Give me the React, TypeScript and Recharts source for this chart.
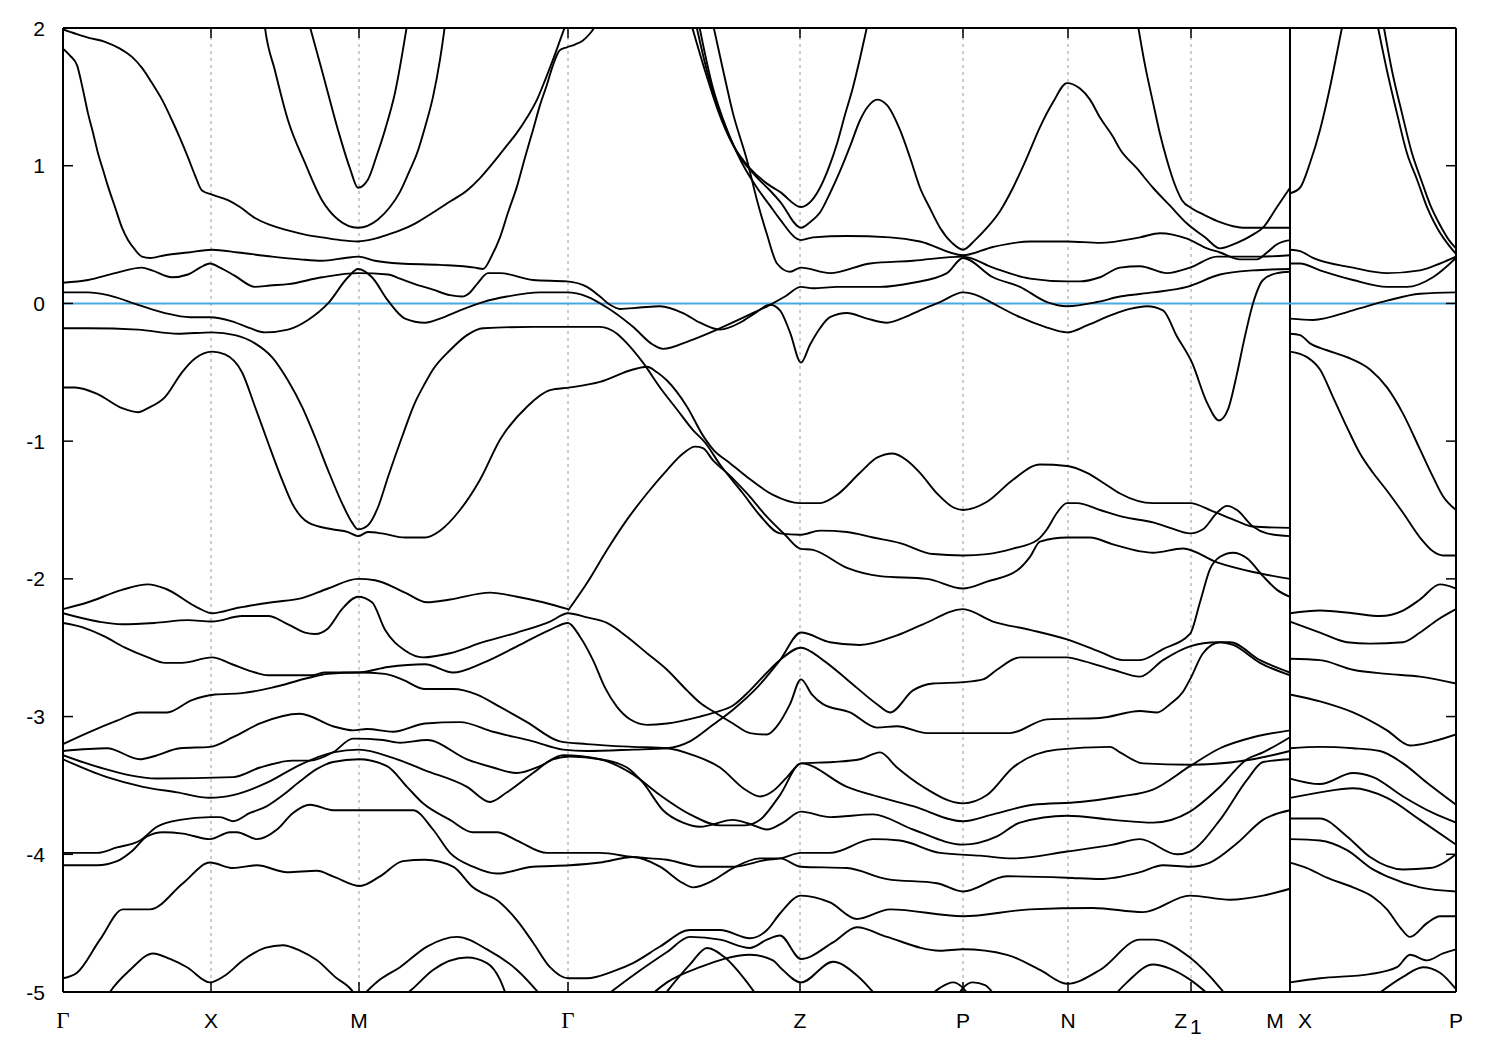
import { LineChart, Line, XAxis, YAxis, ReferenceLine } from 'recharts'

type Band = [number, number][]

// k-path positions of the high-symmetry points and their labels
const kTicks = [0, 148, 296, 505, 737, 900, 1005, 1128, 1227, 1393]
const kLabels = ['Γ', 'X', 'M', 'Γ', 'Z', 'P', 'N', 'Z1', 'M|X', 'P']
const breakK = 1227
const eTicks = [-5, -4, -3, -2, -1, 0, 1, 2]

// bands along Γ-X-M-Γ-Z-P-N-Z1-M  (k, E in eV)
const bandA: Band = [[0,1.99],[12,1.96],[25,1.93],[42,1.90],[57,1.85],[69,1.79],[79,1.71],[89,1.60],[99,1.48],[109,1.33],[117,1.20],[125,1.06],[132,0.93],[139,0.82],[149,0.79],[165,0.75],[177,0.70],[192,0.62],[207,0.57],[225,0.53],[242,0.50],[259,0.48],[277,0.46],[295,0.45],[312,0.47],[325,0.50],[337,0.53],[352,0.58],[370,0.66],[387,0.74],[404,0.82],[417,0.91],[430,1.02],[442,1.13],[454,1.24],[464,1.35],[474,1.48],[482,1.62],[490,1.77],[497,1.91],[503,2.03]]
const bandB: Band = [[0,1.85],[7,1.80],[14,1.73],[20,1.55],[25,1.38],[30,1.24],[35,1.09],[40,0.97],[45,0.85],[52,0.70],[59,0.55],[65,0.46],[72,0.39],[79,0.34],[87,0.33],[102,0.35],[125,0.37],[149,0.39],[175,0.37],[209,0.34],[237,0.32],[259,0.31],[282,0.33],[295,0.34],[312,0.31],[337,0.29],[377,0.28],[412,0.26],[420,0.25],[429,0.35],[437,0.48],[445,0.66],[454,0.85],[462,1.06],[470,1.26],[477,1.44],[484,1.59],[490,1.73],[497,1.84],[504,1.86],[512,1.88],[520,1.91],[527,1.96],[534,2.03]]
const bandC: Band = [[0,0.15],[25,0.17],[52,0.22],[79,0.26],[89,0.24],[109,0.19],[125,0.21],[137,0.26],[147,0.29],[157,0.26],[172,0.20],[192,0.12],[207,0.13],[225,0.14],[259,0.19],[295,0.22],[325,0.21],[337,0.18],[352,0.14],[370,0.10],[387,0.06],[399,0.05],[407,0.08],[415,0.15],[425,0.22],[437,0.22],[470,0.17],[504,0.16],[524,0.12],[537,0.05],[547,-0.01],[557,-0.04],[577,-0.03],[597,-0.02],[620,-0.07],[637,-0.14],[657,-0.19],[677,-0.14],[692,-0.07],[707,-0.01],[717,-0.05],[727,-0.21],[738,-0.43],[747,-0.30],[757,-0.18],[767,-0.10],[784,-0.07],[804,-0.11],[824,-0.14],[842,-0.10],[857,-0.05],[877,0.01],[900,0.08],[917,0.05],[930,0.00],[957,-0.10],[982,-0.17],[1004,-0.21],[1024,-0.16],[1050,-0.08],[1067,-0.04],[1084,-0.02],[1100,-0.05],[1114,-0.24],[1129,-0.43],[1144,-0.72],[1156,-0.85],[1165,-0.77],[1174,-0.51],[1181,-0.27],[1190,0.00],[1200,0.17],[1214,0.22],[1227,0.23]]
const bandD: Band = [[0,0.08],[25,0.08],[45,0.06],[75,-0.01],[102,-0.07],[127,-0.10],[147,-0.10],[169,-0.13],[187,-0.18],[202,-0.21],[225,-0.19],[245,-0.12],[265,0.00],[285,0.19],[295,0.25],[309,0.19],[325,0.02],[342,-0.11],[362,-0.14],[377,-0.11],[397,-0.05],[420,0.01],[444,0.05],[477,0.08],[504,0.08],[524,0.05],[544,-0.03],[570,-0.17],[590,-0.30],[600,-0.33],[627,-0.27],[654,-0.19],[687,-0.08],[707,-0.01],[722,0.05],[738,0.12],[750,0.11],[774,0.12],[817,0.12],[850,0.15],[884,0.22],[900,0.33],[930,0.19],[957,0.12],[984,0.01],[1004,-0.02],[1034,0.01],[1057,0.05],[1090,0.08],[1124,0.12],[1157,0.21],[1190,0.24],[1227,0.25]]
const bandE1: Band = [[200,2.12],[202,2.0],[212,1.69],[225,1.33],[242,1.02],[259,0.75],[275,0.61],[295,0.55],[315,0.61],[327,0.70],[337,0.81],[347,0.97],[354,1.09],[362,1.28],[370,1.50],[377,1.77],[382,2.02]]
const bandE2: Band = [[245,2.06],[259,1.69],[275,1.26],[287,0.98],[295,0.84],[305,0.90],[314,1.08],[322,1.26],[332,1.53],[344,2.02]]
const bandZa: Band = [[627,2.06],[642,1.69],[655,1.40],[670,1.15],[687,0.98],[704,0.87],[717,0.81],[738,0.70],[749,0.75],[757,0.84],[767,1.01],[774,1.16],[782,1.37],[790,1.57],[797,1.78],[805,2.04]]
const bandZb: Band = [[632,2.06],[645,1.66],[659,1.35],[674,1.10],[692,0.93],[707,0.82],[717,0.74],[738,0.55],[747,0.59],[757,0.66],[767,0.80],[777,0.96],[787,1.14],[797,1.33],[805,1.43],[814,1.48],[824,1.44],[837,1.26],[847,1.06],[857,0.84],[867,0.69],[877,0.55],[889,0.44],[900,0.39],[912,0.46],[924,0.55],[937,0.67],[950,0.84],[964,1.06],[977,1.28],[990,1.46],[1004,1.60],[1017,1.56],[1027,1.48],[1037,1.35],[1050,1.21],[1057,1.12],[1074,0.98],[1090,0.84],[1107,0.71],[1124,0.58],[1142,0.48],[1157,0.40],[1174,0.44],[1190,0.50],[1200,0.55],[1214,0.70],[1227,0.84]]
const bandZc: Band = [[635,2.06],[649,1.59],[664,1.26],[679,1.02],[694,0.84],[707,0.71],[717,0.61],[738,0.46],[750,0.48],[784,0.49],[827,0.48],[857,0.45],[900,0.35],[930,0.41],[967,0.45],[1004,0.45],[1037,0.44],[1077,0.48],[1097,0.51],[1124,0.47],[1144,0.40],[1157,0.37],[1177,0.32],[1194,0.32],[1204,0.37],[1214,0.43],[1227,0.46]]
const bandZd: Band = [[649,2.06],[659,1.73],[670,1.38],[684,1.04],[694,0.75],[704,0.50],[714,0.29],[727,0.23],[738,0.26],[767,0.22],[807,0.29],[850,0.31],[900,0.34],[930,0.26],[967,0.18],[1004,0.16],[1017,0.16],[1037,0.19],[1057,0.26],[1077,0.27],[1104,0.22],[1127,0.26],[1154,0.34],[1197,0.34],[1227,0.35]]
const bandNf: Band = [[1074,2.06],[1082,1.73],[1090,1.46],[1097,1.23],[1104,1.04],[1112,0.86],[1119,0.75],[1129,0.69],[1142,0.64],[1157,0.59],[1180,0.55],[1227,0.55]]
const bandF: Band = [[0,-0.18],[25,-0.18],[75,-0.19],[115,-0.22],[149,-0.21],[172,-0.23],[192,-0.29],[209,-0.39],[225,-0.56],[239,-0.75],[252,-0.97],[265,-1.21],[279,-1.45],[289,-1.59],[295,-1.64],[305,-1.61],[315,-1.48],[325,-1.26],[339,-0.97],[352,-0.72],[362,-0.58],[370,-0.48],[387,-0.34],[404,-0.23],[420,-0.18],[470,-0.17],[537,-0.17],[554,-0.22],[564,-0.29],[580,-0.43],[597,-0.61],[614,-0.77],[630,-0.92],[642,-1.01],[657,-1.17],[680,-1.38],[697,-1.54],[717,-1.67],[737,-1.68],[757,-1.65],[784,-1.66],[810,-1.70],[837,-1.74],[870,-1.82],[900,-1.83],[924,-1.82],[950,-1.78],[974,-1.72],[984,-1.64],[994,-1.52],[1004,-1.45],[1014,-1.45],[1037,-1.50],[1060,-1.55],[1090,-1.59],[1107,-1.63],[1127,-1.67],[1140,-1.64],[1154,-1.52],[1164,-1.47],[1174,-1.50],[1190,-1.62],[1204,-1.67],[1227,-1.69]]
const bandG: Band = [[0,-0.61],[12,-0.61],[35,-0.66],[59,-0.76],[75,-0.79],[85,-0.76],[102,-0.68],[119,-0.50],[132,-0.40],[149,-0.35],[162,-0.37],[179,-0.50],[192,-0.75],[205,-1.01],[219,-1.28],[229,-1.45],[245,-1.59],[269,-1.64],[285,-1.66],[295,-1.69],[305,-1.66],[319,-1.67],[342,-1.70],[362,-1.70],[377,-1.65],[397,-1.50],[417,-1.28],[437,-0.99],[464,-0.75],[487,-0.63],[507,-0.61],[537,-0.57],[570,-0.48],[584,-0.46],[594,-0.50],[604,-0.56],[624,-0.75],[640,-0.96],[650,-1.06],[667,-1.16],[684,-1.26],[710,-1.39],[737,-1.45],[757,-1.45],[774,-1.39],[797,-1.23],[814,-1.12],[830,-1.09],[844,-1.14],[857,-1.23],[874,-1.38],[890,-1.48],[900,-1.50],[924,-1.44],[950,-1.28],[977,-1.17],[1004,-1.18],[1024,-1.23],[1044,-1.32],[1057,-1.38],[1090,-1.45],[1127,-1.45],[1150,-1.51],[1174,-1.58],[1190,-1.62],[1227,-1.63]]
const bandH: Band = [[505,-2.23],[524,-2.03],[544,-1.79],[564,-1.57],[584,-1.38],[604,-1.21],[620,-1.09],[632,-1.04],[640,-1.05],[650,-1.14],[664,-1.23],[684,-1.38],[704,-1.55],[722,-1.68],[737,-1.78],[750,-1.79],[784,-1.92],[817,-1.98],[864,-2.00],[900,-2.07],[924,-2.02],[954,-1.94],[967,-1.84],[977,-1.73],[1004,-1.70],[1027,-1.70],[1050,-1.75],[1077,-1.80],[1090,-1.81],[1120,-1.78],[1154,-1.88],[1190,-1.95],[1227,-2.00]]
const bandJ: Band = [[0,-2.22],[25,-2.17],[59,-2.08],[85,-2.04],[102,-2.07],[135,-2.21],[149,-2.25],[175,-2.21],[209,-2.17],[239,-2.14],[265,-2.07],[295,-2.00],[312,-2.01],[342,-2.10],[364,-2.17],[387,-2.15],[427,-2.10],[454,-2.13],[480,-2.17],[505,-2.22]]
const bandK: Band = [[0,-2.25],[35,-2.31],[59,-2.33],[92,-2.32],[125,-2.30],[149,-2.31],[179,-2.27],[205,-2.27],[225,-2.33],[242,-2.39],[252,-2.40],[265,-2.36],[279,-2.22],[295,-2.13],[309,-2.17],[322,-2.37],[342,-2.52],[360,-2.57],[387,-2.54],[420,-2.46],[454,-2.39],[487,-2.31],[505,-2.25],[524,-2.28],[544,-2.32],[564,-2.42],[584,-2.54],[604,-2.66],[624,-2.81],[637,-2.90],[652,-2.97],[670,-3.05],[687,-3.12],[704,-3.13],[714,-3.07],[727,-2.91],[738,-2.73],[749,-2.84],[760,-2.91],[787,-2.97],[814,-3.08],[834,-3.07],[864,-3.12],[947,-3.12],[984,-3.02],[1037,-3.01],[1077,-2.96],[1094,-2.97],[1107,-2.91],[1120,-2.82],[1127,-2.73],[1140,-2.54],[1157,-2.46],[1170,-2.48],[1197,-2.61],[1227,-2.70]]
const bandL: Band = [[0,-2.32],[19,-2.35],[42,-2.42],[62,-2.50],[85,-2.57],[102,-2.61],[119,-2.61],[149,-2.57],[169,-2.62],[192,-2.68],[205,-2.70],[249,-2.70],[262,-2.68],[279,-2.68],[295,-2.68],[325,-2.64],[362,-2.62],[390,-2.68],[420,-2.61],[454,-2.49],[487,-2.37],[505,-2.32],[517,-2.42],[530,-2.59],[542,-2.79],[554,-2.93],[567,-3.02],[584,-3.06],[604,-3.05],[637,-3.00],[652,-2.97],[670,-2.92],[687,-2.81],[704,-2.68],[717,-2.59],[738,-2.50],[760,-2.59],[784,-2.73],[814,-2.91],[827,-2.97],[850,-2.81],[870,-2.76],[900,-2.75],[920,-2.73],[934,-2.66],[957,-2.57],[1004,-2.57],[1017,-2.59],[1050,-2.66],[1077,-2.71],[1100,-2.59],[1127,-2.49],[1154,-2.46],[1167,-2.46],[1197,-2.59],[1227,-2.68]]
const bandS: Band = [[0,-3.20],[24,-3.12],[54,-3.03],[77,-2.97],[104,-2.97],[129,-2.88],[152,-2.84],[179,-2.83],[209,-2.79],[245,-2.72],[265,-2.69],[295,-2.68],[322,-2.69],[339,-2.73],[362,-2.80],[390,-2.80],[414,-2.84],[437,-2.93],[464,-3.04],[497,-3.18],[524,-3.20],[570,-3.22],[604,-3.23],[630,-3.28],[657,-3.37],[682,-3.53],[697,-3.58],[710,-3.54],[724,-3.44],[738,-3.34],[770,-3.33],[797,-3.31],[817,-3.26],[834,-3.37],[860,-3.51],[900,-3.63],[924,-3.57],[950,-3.37],[994,-3.24],[1047,-3.22],[1057,-3.26],[1080,-3.34],[1127,-3.35],[1190,-3.31],[1227,-3.25]]
const bandN: Band = [[0,-3.25],[44,-3.23],[77,-3.31],[90,-3.29],[117,-3.23],[147,-3.22],[170,-3.15],[197,-3.05],[237,-2.98],[270,-3.07],[290,-3.10],[304,-3.09],[330,-3.11],[362,-3.05],[397,-3.04],[430,-3.11],[470,-3.18],[500,-3.24],[524,-3.25],[570,-3.24],[604,-3.23],[627,-3.18],[650,-3.06],[670,-2.95],[694,-2.79],[717,-2.59],[738,-2.39],[767,-2.46],[797,-2.48],[834,-2.41],[860,-2.33],[900,-2.22],[930,-2.31],[967,-2.37],[1004,-2.44],[1037,-2.53],[1060,-2.59],[1077,-2.59],[1100,-2.51],[1127,-2.40],[1137,-2.17],[1147,-1.93],[1157,-1.84],[1170,-1.81],[1184,-1.85],[1200,-1.98],[1214,-2.08],[1227,-2.13]]
const bandO: Band = [[0,-3.28],[37,-3.37],[94,-3.45],[170,-3.44],[197,-3.37],[230,-3.32],[247,-3.32],[270,-3.26],[290,-3.16],[320,-3.17],[337,-3.19],[364,-3.17],[404,-3.31],[430,-3.37],[454,-3.41],[477,-3.36],[500,-3.28],[537,-3.31],[570,-3.42],[597,-3.57],[627,-3.71],[657,-3.79],[682,-3.79],[697,-3.75],[717,-3.57],[738,-3.34],[784,-3.51],[814,-3.58],[850,-3.65],[900,-3.76],[930,-3.71],[970,-3.64],[1017,-3.62],[1057,-3.58],[1090,-3.53],[1127,-3.36],[1157,-3.23],[1190,-3.15],[1227,-3.10]]
const bandP: Band = [[0,-3.31],[44,-3.44],[80,-3.51],[114,-3.55],[147,-3.59],[170,-3.57],[204,-3.48],[237,-3.35],[270,-3.26],[296,-3.24],[330,-3.30],[362,-3.39],[404,-3.51],[427,-3.62],[444,-3.55],[470,-3.41],[490,-3.31],[507,-3.29],[537,-3.31],[564,-3.37],[580,-3.48],[600,-3.68],[620,-3.77],[637,-3.80],[670,-3.75],[687,-3.78],[704,-3.82],[720,-3.77],[738,-3.69],[767,-3.73],[810,-3.71],[850,-3.82],[900,-3.93],[934,-3.87],[957,-3.77],[1004,-3.72],[1050,-3.75],[1090,-3.77],[1127,-3.69],[1157,-3.51],[1184,-3.31],[1200,-3.26],[1227,-3.15]]
const bandQ: Band = [[0,-3.99],[34,-3.99],[54,-3.95],[77,-3.90],[94,-3.80],[117,-3.75],[147,-3.73],[157,-3.73],[170,-3.76],[187,-3.70],[204,-3.65],[220,-3.57],[237,-3.47],[254,-3.38],[270,-3.33],[296,-3.31],[324,-3.36],[344,-3.51],[360,-3.63],[387,-3.75],[410,-3.84],[434,-3.84],[454,-3.90],[484,-3.99],[507,-3.99],[537,-3.99],[570,-4.02],[604,-4.04],[637,-4.09],[670,-4.09],[704,-4.04],[717,-4.03],[738,-3.99],[767,-3.99],[810,-3.89],[837,-3.90],[877,-3.99],[917,-4.01],[950,-4.03],[1004,-3.98],[1050,-3.93],[1077,-3.89],[1114,-4.00],[1127,-3.98],[1157,-3.75],[1184,-3.46],[1200,-3.33],[1227,-3.31]]
const bandR: Band = [[0,-4.08],[34,-4.08],[54,-4.05],[70,-3.97],[84,-3.87],[100,-3.84],[120,-3.85],[147,-3.89],[167,-3.84],[174,-3.84],[194,-3.89],[214,-3.82],[230,-3.70],[247,-3.64],[270,-3.68],[296,-3.68],[337,-3.68],[350,-3.68],[370,-3.82],[387,-3.99],[410,-4.09],[434,-4.14],[470,-4.09],[507,-4.08],[537,-4.06],[570,-4.02],[597,-4.09],[620,-4.21],[630,-4.24],[650,-4.19],[670,-4.10],[697,-4.03],[717,-4.03],[738,-4.09],[784,-4.10],[824,-4.18],[874,-4.21],[900,-4.27],[944,-4.16],[1004,-4.17],[1037,-4.18],[1077,-4.13],[1100,-4.08],[1127,-4.09],[1147,-4.06],[1174,-3.92],[1200,-3.75],[1227,-3.68]]
const bandT1: Band = [[0,-4.90],[14,-4.86],[37,-4.62],[60,-4.40],[87,-4.40],[120,-4.21],[147,-4.06],[170,-4.10],[194,-4.08],[224,-4.13],[254,-4.12],[270,-4.16],[297,-4.23],[317,-4.16],[340,-4.05],[362,-4.04],[390,-4.09],[410,-4.24],[437,-4.35],[454,-4.48],[470,-4.64],[487,-4.82],[505,-4.90],[524,-4.90],[550,-4.85],[570,-4.79],[597,-4.67],[627,-4.55],[657,-4.55],[687,-4.61],[704,-4.55],[717,-4.43],[738,-4.30],[767,-4.35],[794,-4.47],[827,-4.40],[900,-4.45],[967,-4.40],[1030,-4.39],[1080,-4.42],[1127,-4.30],[1167,-4.33],[1200,-4.30],[1227,-4.25]]
const bandT2: Band = [[537,-5.06],[570,-4.88],[604,-4.71],[627,-4.60],[657,-4.62],[687,-4.68],[704,-4.62],[717,-4.59],[738,-4.76],[770,-4.64],[794,-4.53],[824,-4.60],[877,-4.70],[900,-4.69],[944,-4.73],[977,-4.84],[1004,-4.94],[1037,-4.84],[1077,-4.62],[1090,-4.62],[1127,-4.75],[1157,-4.97],[1167,-5.06]]
const bandT3: Band = [[582,-5.06],[604,-4.93],[637,-4.82],[687,-4.73],[710,-4.77],[717,-4.82],[738,-4.93],[770,-4.78],[794,-4.88],[817,-5.06]]
const domeZ: Band = [[597,-5.06],[627,-4.80],[644,-4.68],[662,-4.75],[682,-4.91],[697,-5.06]]
const bandU1: Band = [[42,-5.06],[47,-5.0],[67,-4.84],[90,-4.72],[107,-4.76],[124,-4.82],[147,-4.93],[162,-4.88],[180,-4.77],[202,-4.68],[220,-4.66],[237,-4.70],[254,-4.77],[272,-4.89],[290,-5.0],[295,-5.06]]
const bandU2: Band = [[295,-5.06],[317,-4.91],[337,-4.82],[364,-4.67],[394,-4.60],[424,-4.69],[454,-4.84],[482,-5.06]]
const bandU3: Band = [[335,-5.06],[349,-4.98],[370,-4.84],[404,-4.75],[424,-4.79],[437,-4.91],[445,-5.06]]
const domeN: Band = [[1047,-5.06],[1064,-4.93],[1090,-4.80],[1107,-4.83],[1127,-4.91],[1152,-5.06]]
const domeP1: Band = [[862,-5.06],[877,-4.97],[890,-4.93],[900,-4.97],[909,-5.06]]
const domeP2: Band = [[892,-5.06],[900,-4.97],[910,-4.93],[922,-4.95],[935,-5.06]]

// bands along X-P
const w1: Band = [[1227,0.80],[1237,0.84],[1247,1.02],[1257,1.26],[1267,1.57],[1274,1.82],[1280,2.04]]
const w2: Band = [[1314,2.04],[1324,1.69],[1334,1.38],[1344,1.09],[1354,0.90],[1364,0.70],[1374,0.55],[1384,0.44],[1393,0.36]]
const w3: Band = [[1320,2.04],[1329,1.69],[1339,1.38],[1349,1.09],[1358,0.90],[1367,0.72],[1377,0.57],[1386,0.46],[1393,0.40]]
const w4: Band = [[1227,0.39],[1237,0.38],[1250,0.33],[1290,0.26],[1324,0.22],[1357,0.24],[1377,0.29],[1393,0.34]]
const w5: Band = [[1227,0.29],[1237,0.29],[1257,0.24],[1290,0.17],[1324,0.12],[1344,0.12],[1370,0.19],[1393,0.33]]
const w6: Band = [[1227,-0.11],[1250,-0.12],[1290,-0.05],[1324,0.02],[1357,0.07],[1393,0.08]]
const w7: Band = [[1227,-0.22],[1237,-0.23],[1247,-0.29],[1264,-0.34],[1284,-0.39],[1307,-0.48],[1324,-0.61],[1340,-0.80],[1357,-1.06],[1370,-1.26],[1380,-1.40],[1393,-1.50]]
const w8: Band = [[1227,-0.35],[1244,-0.39],[1257,-0.48],[1270,-0.68],[1284,-0.90],[1297,-1.09],[1310,-1.23],[1324,-1.36],[1340,-1.52],[1357,-1.70],[1370,-1.80],[1380,-1.83],[1393,-1.83]]
const w9: Band = [[1227,-2.25],[1257,-2.23],[1290,-2.25],[1317,-2.27],[1340,-2.23],[1357,-2.15],[1377,-2.04],[1393,-2.07]]
const w10: Band = [[1227,-2.31],[1257,-2.39],[1284,-2.46],[1307,-2.47],[1340,-2.46],[1357,-2.39],[1374,-2.30],[1393,-2.22]]
const w11: Band = [[1227,-2.58],[1257,-2.59],[1290,-2.66],[1324,-2.69],[1357,-2.71],[1393,-2.76]]
const w12: Band = [[1227,-2.84],[1257,-2.89],[1290,-2.97],[1324,-3.10],[1347,-3.21],[1370,-3.18],[1393,-3.13]]
const w13: Band = [[1227,-3.23],[1257,-3.22],[1290,-3.23],[1317,-3.25],[1340,-3.34],[1364,-3.48],[1393,-3.64]]
const w14: Band = [[1227,-3.45],[1257,-3.49],[1290,-3.41],[1310,-3.44],[1340,-3.58],[1370,-3.70],[1393,-3.77]]
const w15: Band = [[1227,-3.59],[1257,-3.55],[1290,-3.52],[1324,-3.59],[1357,-3.75],[1393,-3.93]]
const w16: Band = [[1227,-3.74],[1257,-3.74],[1284,-3.87],[1307,-4.02],[1340,-4.11],[1367,-4.10],[1393,-4.00]]
const w17: Band = [[1227,-3.89],[1257,-3.90],[1284,-3.97],[1310,-4.11],[1324,-4.16],[1357,-4.24],[1393,-4.27]]
const w18: Band = [[1227,-4.06],[1244,-4.10],[1264,-4.17],[1290,-4.24],[1310,-4.31],[1324,-4.40],[1337,-4.53],[1347,-4.60],[1364,-4.50],[1377,-4.45],[1393,-4.45]]
const w19: Band = [[1227,-4.93],[1257,-4.90],[1307,-4.87],[1334,-4.82],[1347,-4.73],[1364,-4.77],[1380,-4.72],[1393,-4.69]]
const w20: Band = [[1307,-5.06],[1340,-4.89],[1360,-4.82],[1377,-4.86],[1393,-4.98]]

const bands: Band[] = [
  bandA, bandB, bandC, bandD, bandE1, bandE2, bandZa, bandZb, bandZc, bandZd, bandNf,
  bandF, bandG, bandH, bandJ, bandK, bandL, bandS, bandN, bandO, bandP, bandQ, bandR,
  bandT1, bandT2, bandT3, domeZ, bandU1, bandU2, bandU3, domeN, domeP1, domeP2,
  w1, w2, w3, w4, w5, w6, w7, w8, w9, w10, w11, w12, w13, w14, w15, w16, w17, w18, w19, w20,
]

const SANS = '"Liberation Sans", Arial, Helvetica, sans-serif'
const SERIF = '"Liberation Serif", "Times New Roman", serif'
const FS = 21

function BottomTick({ x, y, payload }: any) {
  const lbl = kLabels[kTicks.indexOf(payload.value)]
  const ty = y + 36
  let label
  if (lbl === 'Γ') {
    label = <text x={x} y={ty} textAnchor="middle" fontFamily={SERIF} fontSize={23}>Γ</text>
  } else if (lbl === 'Z1') {
    label = (
      <text x={x - 3} y={ty} textAnchor="middle" fontFamily={SANS} fontSize={FS}>
        Z<tspan dx={3} dy={6}>1</tspan>
      </text>
    )
  } else if (lbl === 'M|X') {
    label = (
      <g fontFamily={SANS} fontSize={FS}>
        <text x={x - 15} y={ty} textAnchor="middle">M</text>
        <text x={x + 15} y={ty} textAnchor="middle">X</text>
      </g>
    )
  } else {
    label = <text x={x} y={ty} textAnchor="middle" fontFamily={SANS} fontSize={FS}>{lbl}</text>
  }
  return (
    <g>
      <line x1={x} y1={y} x2={x} y2={y - 10} stroke="#000" strokeWidth={1.5} />
      {label}
    </g>
  )
}

function TopTick({ x, y }: any) {
  return <line x1={x} y1={y} x2={x} y2={y + 10} stroke="#000" strokeWidth={1.5} />
}

function LeftTick({ x, y, payload }: any) {
  return (
    <g>
      <line x1={x} y1={y} x2={x + 10} y2={y} stroke="#000" strokeWidth={1.5} />
      <text x={x - 18} y={y + 7.5} textAnchor="end" fontFamily={SANS} fontSize={FS}>{payload.value}</text>
    </g>
  )
}

function RightTick({ x, y }: any) {
  return <line x1={x} y1={y} x2={x - 10} y2={y} stroke="#000" strokeWidth={1.5} />
}

const frame = { stroke: '#000', strokeWidth: 2 }

export default function App() {
  return (
    <div style={{ width: 1484, height: 1034, background: '#fff' }}>
      <LineChart width={1484} height={1034} margin={{ top: 19, right: 35, bottom: 10, left: 0 }}>
        <XAxis xAxisId={0} dataKey="k" type="number" domain={[0, 1393]} ticks={kTicks} interval={0}
          allowDataOverflow height={40} tickSize={0} tickMargin={0} tickLine={false}
          axisLine={frame} tick={<BottomTick />} />
        <XAxis xAxisId="top" orientation="top" dataKey="k" type="number" domain={[0, 1393]} ticks={kTicks}
          interval={0} allowDataOverflow height={1} tickSize={0} tickMargin={0} tickLine={false}
          axisLine={frame} tick={<TopTick />} />
        <YAxis yAxisId={0} type="number" domain={[-5, 2]} ticks={eTicks} interval={0} allowDataOverflow
          width={55} tickSize={0} tickMargin={0} tickLine={false} axisLine={frame} tick={<LeftTick />} />
        <YAxis yAxisId="right" orientation="right" type="number" domain={[-5, 2]} ticks={eTicks} interval={0}
          allowDataOverflow width={1} tickSize={0} tickMargin={0} tickLine={false} axisLine={frame}
          tick={<RightTick />} />

        {kTicks.slice(1, -1).filter((k) => k !== breakK).map((k) => (
          <ReferenceLine key={k} x={k} stroke="#9a9a9a" strokeWidth={1} strokeDasharray="3 4" />
        ))}
        <ReferenceLine x={breakK} stroke="#000" strokeWidth={2} />
        <ReferenceLine y={0} stroke="#4aa8e0" strokeWidth={2} />

        {bands.map((b, i) => (
          <Line key={i} data={b.map(([k, e]) => ({ k, e }))} dataKey="e" type="monotone" dot={false}
            stroke="#000" strokeWidth={1.9} isAnimationActive={false} />
        ))}
      </LineChart>
    </div>
  )
}
